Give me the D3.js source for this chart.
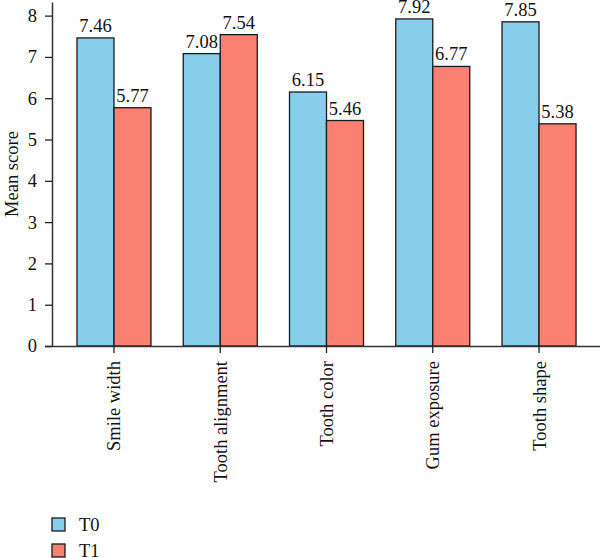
<!DOCTYPE html>
<html>
<head>
<meta charset="utf-8">
<script src="https://cdn.jsdelivr.net/npm/d3@7"></script>
<style>
  body { margin: 0; background: #fff; }
  text { font-family: "Liberation Serif", "DejaVu Serif", serif; fill: #111; }
</style>
</head>
<body>
<script>
// data
var categories = ["Smile width", "Tooth alignment", "Tooth color", "Gum exposure", "Tooth shape"];
var series = ["T0", "T1"];
var t0 = [7.46, 7.08, 6.15, 7.92, 7.85];
var t1 = [5.77, 7.54, 5.46, 6.77, 5.38];
var yTicks = [0, 1, 2, 3, 4, 5, 6, 7, 8];
var colors = ["#87CEEB", "#FA8072"];

var width = 600, height = 558;
var plotLeft = 52, plotTop = 2, plotBottom = 346;
var fs = "18.5px";

var svg = d3.select("body").append("svg")
    .attr("width", width)
    .attr("height", height);

var rows = categories.map(function(c, i) { return {cat: c, vals: [t0[i], t1[i]]}; });

var x = d3.scaleBand()
    .domain(categories)
    .range([plotLeft, 601])
    .paddingInner(0.3035)
    .paddingOuter(0.235);

var xs = d3.scaleBand()
    .domain(series)
    .range([0, x.bandwidth()]);

var y = d3.scaleLinear()
    .domain([0, 8.33])
    .range([plotBottom, plotTop]);

// bars
var g = svg.selectAll(".grp")
    .data(rows).enter()
    .append("g")
    .attr("class", "grp")
    .attr("transform", function(d) { return "translate(" + x(d.cat) + ",0)"; });

g.selectAll("rect")
    .data(function(d) { return d.vals.map(function(v, j) { return {s: series[j], v: v, j: j}; }); })
    .enter().append("rect")
    .attr("x", function(d) { return xs(d.s); })
    .attr("y", function(d) { return y(d.v); })
    .attr("width", xs.bandwidth())
    .attr("height", function(d) { return y(0) - y(d.v); })
    .style("fill", function(d) { return colors[d.j]; })
    .style("stroke", "#1a1a1a")
    .style("stroke-width", 1.3);

g.selectAll(".val")
    .data(function(d) { return d.vals.map(function(v, j) { return {s: series[j], v: v}; }); })
    .enter().append("text")
    .attr("class", "val")
    .attr("x", function(d) { return xs(d.s) + xs.bandwidth() / 2; })
    .attr("y", function(d) { return y(d.v) - 6; })
    .attr("text-anchor", "middle")
    .style("font-size", fs)
    .text(function(d) { return d.v.toFixed(2); });

// x axis
var xAxis = svg.append("g")
    .attr("transform", "translate(0," + plotBottom + ")")
    .call(d3.axisBottom(x).tickSize(7).tickSizeOuter(0).tickPadding(8));
xAxis.select(".domain").attr("stroke", "#333").attr("stroke-width", 1.5)
    .attr("d", "M45,0.5H600");
xAxis.selectAll(".tick line").attr("stroke", "#222").attr("stroke-width", 1.3);
xAxis.selectAll(".tick text")
    .attr("transform", "rotate(-90)")
    .attr("x", -15)
    .attr("y", 0)
    .attr("dy", "0.35em")
    .attr("text-anchor", "end")
    .style("font-size", fs)
    .style("font-family", "Liberation Serif, serif");

// y axis
var yAxis = svg.append("g")
    .attr("transform", "translate(" + plotLeft + ",0)")
    .call(d3.axisLeft(y).tickValues(yTicks).tickSize(7).tickSizeOuter(0).tickPadding(8));
yAxis.select(".domain").attr("stroke", "#333").attr("stroke-width", 1.5);
yAxis.selectAll(".tick line").attr("stroke", "#222").attr("stroke-width", 1.3);
yAxis.selectAll(".tick text")
    .style("font-size", fs)
    .style("font-family", "Liberation Serif, serif");

svg.append("text")
    .attr("transform", "translate(18," + ((plotTop + plotBottom) / 2) + ") rotate(-90)")
    .attr("text-anchor", "middle")
    .style("font-size", fs)
    .text("Mean score");

// legend
var lg = svg.selectAll(".leg")
    .data(series).enter()
    .append("g")
    .attr("class", "leg")
    .attr("transform", function(d, i) { return "translate(52," + (518 + i * 26) + ")"; });
lg.append("rect")
    .attr("width", 13).attr("height", 13)
    .style("fill", function(d, i) { return colors[i]; })
    .style("stroke", "#1a1a1a")
    .style("stroke-width", 1.3);
lg.append("text")
    .attr("x", 27)
    .attr("y", 13)
    .style("font-size", fs)
    .text(function(d) { return d; });
</script>
</body>
</html>
